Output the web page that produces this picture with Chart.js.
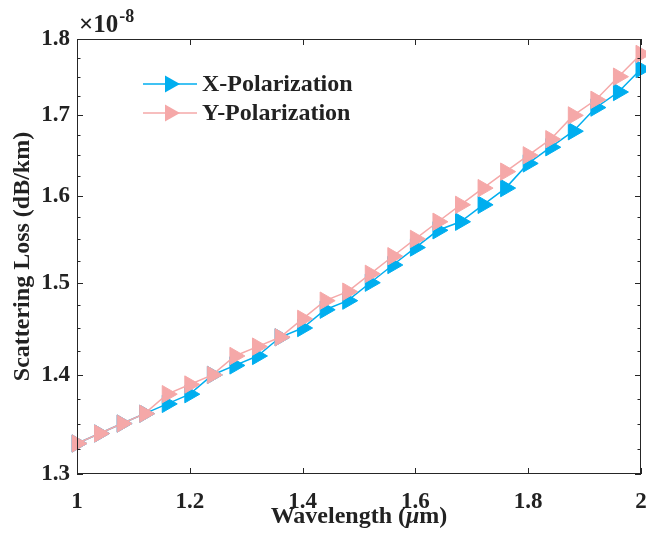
<!DOCTYPE html>
<html>
<head>
<meta charset="utf-8">
<script src="https://cdn.jsdelivr.net/npm/chart.js@4"></script>
<style>
  html, body { margin: 0; padding: 0; background: #fff; }
  #wrap { width: 646px; height: 545px; }
</style>
</head>
<body>
<div id="wrap"><canvas id="lossChart" width="646" height="545"></canvas></div>
<script>
// wavelength (um) and scattering loss (x 1e-8 dB/km)
const wavelength = [1.00, 1.04, 1.08, 1.12, 1.16, 1.20, 1.24, 1.28, 1.32, 1.36, 1.40, 1.44, 1.48,
                    1.52, 1.56, 1.60, 1.64, 1.68, 1.72, 1.76, 1.80, 1.84, 1.88, 1.92, 1.96, 2.00];
const xPol = [1.33, 1.34, 1.35, 1.36, 1.37, 1.38, 1.40, 1.41, 1.42, 1.44, 1.45, 1.47, 1.48,
              1.50, 1.52, 1.54, 1.56, 1.57, 1.59, 1.61, 1.64, 1.66, 1.68, 1.71, 1.73, 1.76];
const yPol = [1.33, 1.34, 1.35, 1.36, 1.38, 1.39, 1.40, 1.42, 1.43, 1.44, 1.46, 1.48, 1.49,
              1.51, 1.53, 1.55, 1.57, 1.59, 1.61, 1.63, 1.65, 1.67, 1.70, 1.72, 1.75, 1.78];
const xTicks = [1, 1.2, 1.4, 1.6, 1.8, 2];
const yTicks = [1.3, 1.4, 1.5, 1.6, 1.7, 1.8];
const yMinorTicks = [1.325, 1.35, 1.375, 1.425, 1.45, 1.475, 1.525, 1.55, 1.575,
                     1.625, 1.65, 1.675, 1.725, 1.75, 1.775];

const BLUE = '#00AEEF';
const PINK = '#F5A8A8';
const TEXT = '#222222';
const FONT = '"Liberation Serif", "Times New Roman", serif';

// frame, inward ticks, legend, x title and exponent label, MATLAB style
const framePlugin = {
    id: 'frame',
    afterDraw(chart) {
        const ctx = chart.ctx;
        const a = chart.chartArea;
        const xs = chart.scales.x, ys = chart.scales.y;
        ctx.save();
        ctx.strokeStyle = '#262626';
        ctx.lineWidth = 1;
        ctx.strokeRect(a.left + 0.5, a.top + 0.5, a.right - a.left - 1, a.bottom - a.top - 1);
        ctx.beginPath();
        xTicks.forEach(v => {
            const px = Math.round(xs.getPixelForValue(v)) + 0.5;
            ctx.moveTo(px, a.bottom); ctx.lineTo(px, a.bottom - 6);
            ctx.moveTo(px, a.top); ctx.lineTo(px, a.top + 6);
        });
        yTicks.forEach(v => {
            const py = Math.round(ys.getPixelForValue(v)) + 0.5;
            ctx.moveTo(a.left, py); ctx.lineTo(a.left + 6, py);
            ctx.moveTo(a.right, py); ctx.lineTo(a.right - 6, py);
        });
        yMinorTicks.forEach(v => {
            const py = Math.round(ys.getPixelForValue(v)) + 0.5;
            ctx.moveTo(a.left, py); ctx.lineTo(a.left + 3.5, py);
            ctx.moveTo(a.right, py); ctx.lineTo(a.right - 3.5, py);
        });
        ctx.stroke();

        // exponent
        ctx.fillStyle = TEXT;
        ctx.textBaseline = 'alphabetic';
        ctx.textAlign = 'left';
        ctx.font = 'bold 25px ' + FONT;
        ctx.fillText('\u00d710', 79, 32);
        const w = ctx.measureText('\u00d710').width;
        ctx.font = 'bold 18px ' + FONT;
        ctx.fillText('-8', 79 + w + 1, 22);

        // x axis title with italic mu
        const parts = [
            { t: 'Wavelength (', f: 'bold 24px ' + FONT },
            { t: '\u03bc', f: 'italic bold 24px ' + FONT },
            { t: 'm)', f: 'bold 24px ' + FONT }
        ];
        let total = 0;
        parts.forEach(p => { ctx.font = p.f; p.w = ctx.measureText(p.t).width; total += p.w; });
        let tx = (a.left + a.right) / 2 - total / 2;
        parts.forEach(p => {
            ctx.font = p.f;
            ctx.fillText(p.t, tx, 523);
            tx += p.w;
        });

        // legend
        const items = [
            { label: 'X-Polarization', color: BLUE, y: 84 },
            { label: 'Y-Polarization', color: PINK, y: 113 }
        ];
        items.forEach(it => {
            ctx.strokeStyle = it.color;
            ctx.lineWidth = 1.5;
            ctx.beginPath();
            ctx.moveTo(143, it.y); ctx.lineTo(197, it.y);
            ctx.stroke();
            ctx.fillStyle = it.color;
            ctx.beginPath();
            ctx.moveTo(180, it.y);
            ctx.lineTo(165, it.y - 8.5);
            ctx.lineTo(165, it.y + 8.5);
            ctx.closePath();
            ctx.fill();
            ctx.fillStyle = TEXT;
            ctx.font = 'bold 24px ' + FONT;
            ctx.textBaseline = 'middle';
            ctx.fillText(it.label, 202, it.y + 1);
        });
        ctx.restore();
    }
};

const lossChart = new Chart(document.getElementById('lossChart'), {
    type: 'line',
    data: {
        datasets: [{
            label: 'X-Polarization',
            data: wavelength.map((w, i) => ({ x: w, y: xPol[i] })),
            borderColor: BLUE,
            backgroundColor: BLUE,
            borderWidth: 1.5,
            pointStyle: 'triangle',
            rotation: 90,
            pointRadius: 10,
            pointBorderWidth: 1,
            clip: false,
            order: 2
        }, {
            label: 'Y-Polarization',
            data: wavelength.map((w, i) => ({ x: w, y: yPol[i] })),
            borderColor: PINK,
            backgroundColor: PINK,
            borderWidth: 1.5,
            pointStyle: 'triangle',
            rotation: 90,
            pointRadius: 10,
            pointBorderWidth: 1,
            clip: false,
            order: 1
        }]
    },
    options: {
        responsive: false,
        animation: false,
        layout: { autoPadding: false, padding: { top: 39, right: 5, left: 0, bottom: 0 } },
        plugins: {
            legend: { display: false },
            tooltip: { enabled: false }
        },
        scales: {
            x: {
                type: 'linear',
                min: 1,
                max: 2,
                afterFit: s => {
                    s.height = 71;
                    s.paddingLeft = 0;
                    s.paddingRight = 0;
                },
                afterBuildTicks: s => { s.ticks = xTicks.map(v => ({ value: v })); },
                grid: { display: false, drawTicks: false },
                border: { display: false },
                ticks: {
                    padding: 14,
                    color: TEXT,
                    font: { family: FONT, size: 23, weight: 'bold' },
                    callback: v => String(+v.toFixed(1))
                },
                title: { display: false }
            },
            y: {
                type: 'logarithmic',
                min: 1.3,
                max: 1.8,
                afterFit: s => {
                    s.width = 77;
                    s.paddingTop = 0;
                    s.paddingBottom = 0;
                },
                afterBuildTicks: s => { s.ticks = yTicks.map(v => ({ value: v })); },
                grid: { display: false, drawTicks: false },
                border: { display: false },
                ticks: {
                    padding: 7,
                    color: TEXT,
                    font: { family: FONT, size: 23, weight: 'bold' },
                    callback: v => v.toFixed(1)
                },
                title: {
                    display: true,
                    text: 'Scattering Loss (dB/km)',
                    color: TEXT,
                    font: { family: FONT, size: 24, weight: 'bold' },
                    padding: { top: 8, bottom: 0 }
                }
            }
        }
    },
    plugins: [framePlugin]
});
</script>
</body>
</html>
